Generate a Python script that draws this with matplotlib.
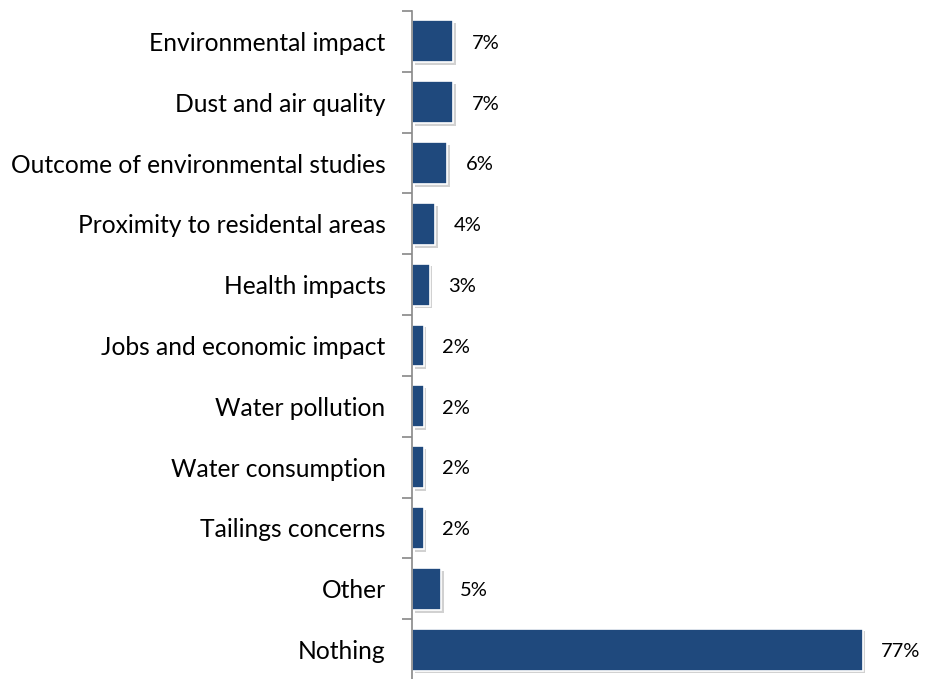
import matplotlib
matplotlib.use("Agg")
import matplotlib.pyplot as plt
import matplotlib.patheffects as pe
import numpy as np

# data
categories = ["Environmental impact", "Dust and air quality", "Outcome of environmental studies",
              "Proximity to residental areas", "Health impacts", "Jobs and economic impact",
              "Water pollution", "Water consumption", "Tailings concerns", "Other", "Nothing"]
values = [7, 7, 6, 4, 3, 2, 2, 2, 2, 5, 77]

plt.rcParams['font.family'] = ['Lato', 'DejaVu Sans']

fig = plt.figure(figsize=(9.27, 6.79), dpi=100)
W, H = 927, 679
ax = fig.add_axes([412 / W, -1 / H, 1 - 412 / W, 1 - 10 / H])

y = np.arange(len(categories))
bars = ax.barh(y, values, height=0.69, color="#1f497d", edgecolor="white", linewidth=1.2,
               path_effects=[pe.SimplePatchShadow(offset=(2, -2), shadow_rgbFace="#999999", alpha=0.45),
                             pe.Normal()])

for yi, v in zip(y, values):
    ax.text(v + 3.2, yi + 0.03, f"{v}%", va="center", ha="left", fontsize=14.5, color="black")

ax.set_ylim(10.5, -0.5)
ax.set_xlim(0, 88)

ax.set_yticks(y)
ax.set_yticklabels(categories, fontsize=17.7)
ax.set_yticks(np.arange(-0.5, 11, 1), minor=True)
ax.tick_params(axis="y", which="major", length=0, pad=19)
ax.tick_params(axis="y", which="minor", length=7, width=1.2, color="#888888")
ax.set_xticks([])

for s in ["top", "right", "bottom"]:
    ax.spines[s].set_visible(False)
ax.spines["left"].set_color("#888888")
ax.spines["left"].set_linewidth(1.2)

fig.savefig("out.png", dpi=100)
